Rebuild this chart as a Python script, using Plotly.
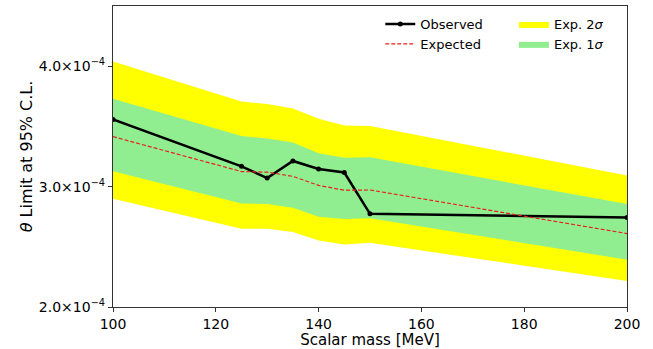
import plotly.graph_objects as go

mass = [100, 125, 130, 135, 140, 145, 150, 200]
observed = [3.557e-4, 3.168e-4, 3.071e-4, 3.213e-4, 3.146e-4, 3.117e-4, 2.774e-4, 2.744e-4]
expected = [3.415e-4, 3.125e-4, 3.120e-4, 3.085e-4, 3.010e-4, 2.970e-4, 2.972e-4, 2.610e-4]
one_sig_up = [3.730e-4, 3.420e-4, 3.400e-4, 3.366e-4, 3.276e-4, 3.240e-4, 3.243e-4, 2.855e-4]
one_sig_dn = [3.128e-4, 2.860e-4, 2.855e-4, 2.825e-4, 2.750e-4, 2.730e-4, 2.738e-4, 2.393e-4]
two_sig_up = [4.040e-4, 3.707e-4, 3.686e-4, 3.648e-4, 3.563e-4, 3.508e-4, 3.503e-4, 3.093e-4]
two_sig_dn = [2.900e-4, 2.650e-4, 2.650e-4, 2.623e-4, 2.552e-4, 2.519e-4, 2.533e-4, 2.216e-4]

x_ticks = [100, 120, 140, 160, 180, 200]
y_ticks = [2.0e-4, 3.0e-4, 4.0e-4]
y_ticktext = ["2.0×10<sup>−4</sup>", "3.0×10<sup>−4</sup>", "4.0×10<sup>−4</sup>"]

FONT = "DejaVu Sans"
fig = go.Figure()

fig.add_trace(go.Scatter(x=mass, y=two_sig_dn, mode="lines", line=dict(width=0),
                         showlegend=False, hoverinfo="skip"))
fig.add_trace(go.Scatter(x=mass, y=two_sig_up, mode="lines", line=dict(width=0),
                         fill="tonexty", fillcolor="#ffff00", name="Exp. 2<i>σ</i>",
                         legend="legend2"))
fig.add_trace(go.Scatter(x=mass, y=one_sig_dn, mode="lines", line=dict(width=0),
                         showlegend=False, hoverinfo="skip"))
fig.add_trace(go.Scatter(x=mass, y=one_sig_up, mode="lines", line=dict(width=0),
                         fill="tonexty", fillcolor="#90ee90", name="Exp. 1<i>σ</i>",
                         legend="legend2"))
fig.add_trace(go.Scatter(x=mass, y=observed, mode="lines+markers", name="Observed",
                         line=dict(color="black", width=2.5),
                         marker=dict(color="black", size=5)))
fig.add_trace(go.Scatter(x=mass, y=expected, mode="lines", name="Expected",
                         line=dict(color="#e8221b", width=1.2, dash="4px,2px")))

axis_common = dict(showgrid=False, zeroline=False, showline=True, linecolor="#333333",
                   linewidth=1.2, mirror=True, ticks="outside", ticklen=4,
                   tickcolor="#333333", tickfont=dict(family=FONT, size=14, color="black"))

fig.update_xaxes(range=[100, 200], tickvals=x_ticks,
                 title=dict(text="Scalar mass [MeV]", font=dict(family=FONT, size=15, color="black"),
                            standoff=2),
                 **axis_common)
fig.update_yaxes(range=[2.0e-4, 4.5e-4], tickvals=y_ticks, ticktext=y_ticktext,
                 title=dict(text="<i>θ</i> Limit at 95% C.L.", font=dict(family=FONT, size=16, color="black"),
                            standoff=2),
                 **axis_common)

leg_common = dict(bgcolor="rgba(255,255,255,0)", font=dict(family=FONT, size=13, color="black"),
                  yanchor="top", xanchor="left", tracegroupgap=0, itemwidth=30,
                  traceorder="normal")
fig.update_layout(
    width=653, height=349,
    margin=dict(l=113, r=26, t=5, b=37),
    paper_bgcolor="white", plot_bgcolor="white",
    legend=dict(x=0.52, y=0.99, **leg_common),
    legend2=dict(x=0.78, y=0.99, **leg_common),
)

fig.write_html("out.html")
